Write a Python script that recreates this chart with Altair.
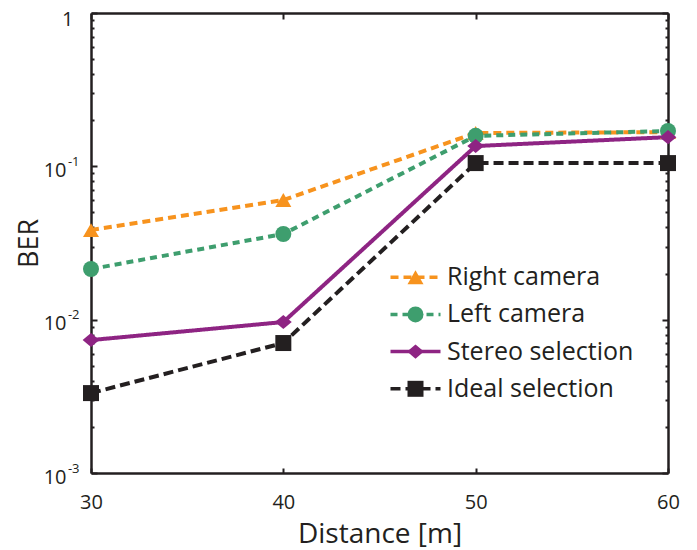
import altair as alt
import pandas as pd

# ---- data ----
distance = [30, 40, 50, 60]
series_names = ["Right camera", "Left camera", "Stereo selection", "Ideal selection"]
line_keys = ["k1", "k2", "k3", "k4"]   # hidden keys for the line part of the legend
ber_right = [0.0384, 0.0603, 0.165, 0.167]
ber_left = [0.0214, 0.0362, 0.158, 0.170]
ber_stereo = [0.00736, 0.00965, 0.1356, 0.155]
ber_ideal = [0.00332, 0.00704, 0.105, 0.105]

# ---- styling ----
colors = ["#F7931E", "#3E9E6E", "#8E2483", "#231F20"]
dashes = [[8, 5], [7, 5], [1, 0], [10, 5]]
shapes = ["triangle-up", "circle", "M-1.05,0L0,-0.88L1.05,0L0,0.88Z", "square"]

# ---- axis ticks ----
x_ticks = [30, 40, 50, 60]
y_major = [0.001, 0.01, 0.1, 1]
y_minor = [0.002, 0.003, 0.004, 0.005, 0.006, 0.007, 0.008, 0.009,
           0.02, 0.03, 0.04, 0.05, 0.06, 0.07, 0.08, 0.09,
           0.2, 0.3, 0.4, 0.5, 0.6, 0.7, 0.8, 0.9]
y_sup_values = [0.001, 0.01, 0.1]
y_sup_text = ["-3", "-2", "-1"]

rows = []
for name, key, vals in zip(series_names, line_keys, [ber_right, ber_left, ber_stereo, ber_ideal]):
    for d, v in zip(distance, vals):
        rows.append({"distance": d, "ber": v, "series": name, "line_key": key})
df = pd.DataFrame(rows)

FONT = "Open Sans"
INK = "#231F20"
y_all = sorted(y_major + y_minor)
major_list = "[" + ",".join(str(v) for v in y_major) + "]"
tick_expr = f"indexof({major_list}, datum.value) >= 0 ? -6 : -3"

xscale = alt.Scale(type="linear", domain=[30, 60], nice=False, zero=False)
yscale = alt.Scale(type="log", domain=[0.001, 1], nice=False)

common = dict(domainColor=INK, domainWidth=2.5, tickColor=INK, tickWidth=2,
              grid=False, labelOverlap=False, labelFlush=False,
              labelFont=FONT, labelColor=INK)

x_bottom = alt.Axis(orient="bottom", values=x_ticks, tickSize={"expr": "-5"},
                    labelFontSize=20, labelPadding=24, format="d",
                    title="Distance [m]", titleFont=FONT, titleFontSize=28,
                    titleFontWeight="normal", titleColor=INK, titlePadding=8,
                    **common)
x_top = alt.Axis(orient="top", values=x_ticks, tickSize={"expr": "-6"},
                 labels=False, title=None, **common)

sup_map = " : ".join(f"datum.value == {v} ? '{t}'" for v, t in zip(y_sup_values, y_sup_text)) + " : ''"
y_left = alt.Axis(orient="left", values=y_all, tickSize={"expr": tick_expr},
                  labelExpr=f"datum.value == 1 ? '1' : (indexof({major_list}, datum.value) >= 0 ? '10' : '')",
                  labelPadding={"expr": "datum.value == 1 ? 24 : 31"},
                  labelOffset={"expr": "datum.value == 1 ? 6 : 4"},
                  labelFontSize=20, labelBaseline="middle",
                  title="BER", titleFont=FONT, titleFontSize=27,
                  titleFontWeight="normal", titleColor=INK, titlePadding=0,
                  **common)
y_right = alt.Axis(orient="right", values=y_all, tickSize={"expr": tick_expr},
                   labels=False, title=None, **common)
y_sup = alt.Axis(orient="left", values=y_sup_values, ticks=False, domain=False,
                 labelExpr=sup_map, labelFontSize=13, labelPadding=12,
                 labelBaseline="middle", labelOffset=-5, labelFont=FONT,
                 labelColor=INK, labelOverlap=False, labelFlush=False,
                 grid=False, title=None)

LX, LY = 312, 251.7
legend_common = dict(orient="none", legendX=LX, legendY=LY, title=None,
                     labelFont=FONT, labelFontSize=25, labelColor=INK,
                     labelOffset=19, labelLimit=400, rowPadding=11.2,
                     padding=0, symbolSize=256)
line_legend = alt.Legend(symbolType="M-3.125,0H3.125", symbolStrokeWidth=3.5,
                         labelExpr="' '", labelOpacity=0, **legend_common)
point_legend = alt.Legend(symbolStrokeWidth=0, **legend_common)

base = alt.Chart(df)

lines = base.mark_line(strokeWidth=4).encode(
    x=alt.X("distance:Q", scale=xscale, axis=x_bottom),
    y=alt.Y("ber:Q", scale=yscale, axis=y_left),
    color=alt.Color("line_key:N", scale=alt.Scale(domain=line_keys, range=colors),
                    legend=line_legend),
    strokeDash=alt.StrokeDash("line_key:N", scale=alt.Scale(domain=line_keys, range=dashes),
                              legend=line_legend),
)

points = base.mark_point(filled=True, opacity=1, strokeWidth=0, size=256).encode(
    x=alt.X("distance:Q", scale=xscale, axis=x_top),
    y=alt.Y("ber:Q", scale=yscale, axis=y_right),
    fill=alt.Fill("series:N", scale=alt.Scale(domain=series_names, range=colors),
                  legend=point_legend),
    shape=alt.Shape("series:N", scale=alt.Scale(domain=series_names, range=shapes),
                    legend=point_legend),
)

sup = base.mark_point(opacity=0).encode(
    x=alt.X("distance:Q", scale=xscale, axis=None),
    y=alt.Y("ber:Q", scale=yscale, axis=y_sup),
)

chart = alt.layer(lines, points, sup).resolve_axis(
    x="independent", y="independent"
).properties(
    width=577, height=460,
    autosize=alt.AutoSizeParams(type="none"),
    padding={"left": 83, "top": 5, "right": 21, "bottom": 77},
).configure_view(stroke=None).configure(background="white")

chart.save("out.html", embed_options={"renderer": "svg", "actions": False})
